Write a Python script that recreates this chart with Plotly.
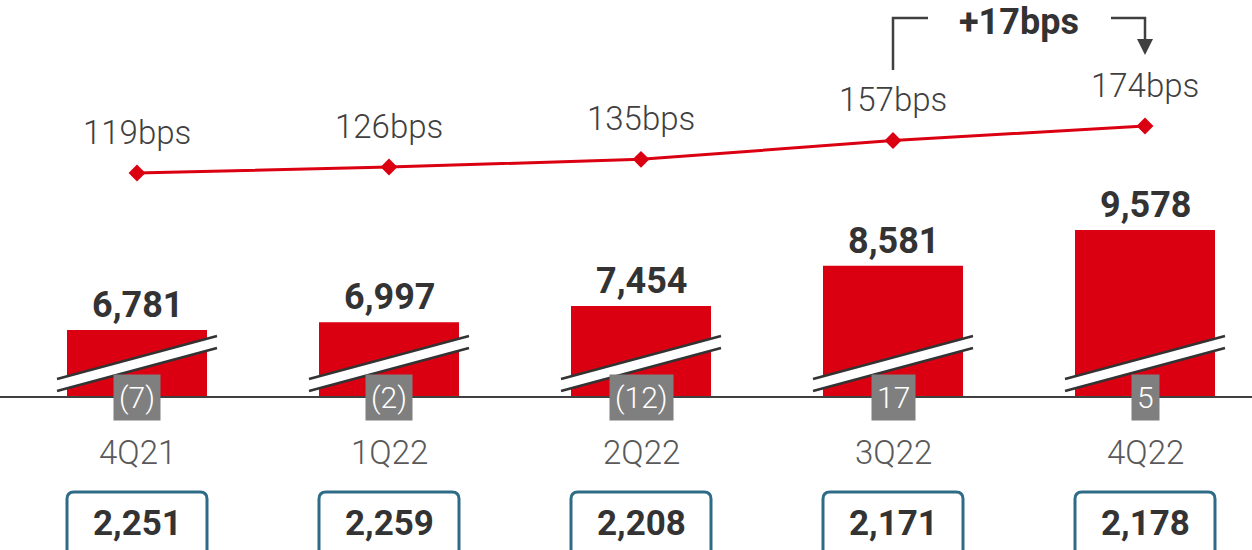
import plotly.graph_objects as go

# ---------------- data ----------------
quarters = ["4Q21", "1Q22", "2Q22", "3Q22", "4Q22"]
bar_values = [6781, 6997, 7454, 8581, 9578]
bps_values = [119, 126, 135, 157, 174]
change_labels = ["(7)", "(2)", "(12)", "17", "5"]
box_values = [2251, 2259, 2208, 2171, 2178]
delta_label = "+17bps"

# ---------------- layout constants ----------------
W, H = 1252, 550
X0_PX, STEP_PX = 137, 252          # first category centre & spacing (px)
BASE_PX = 397                      # baseline pixel row
BAR_RANGE = [4907, 16012]
LINE_RANGE = [-143.1, 321.5]

RED = "#DB0011"
DARK = "#333333"
TXT = "#404040"
GREY_BOX = "#7F7F7F"
BLUE = "#2E6B86"
FONT = "Roboto"


def py(p):
    """pixel row -> paper y"""
    return (H - p) / H


def dx(p):
    """pixel offset -> x data units"""
    return p / STEP_PX


x_idx = list(range(len(quarters)))
dom_bottom = py(BASE_PX)

fig = go.Figure()

fig.add_trace(go.Bar(
    x=x_idx, y=bar_values, width=dx(140), marker=dict(color=RED, line=dict(width=0)),
    yaxis="y", hoverinfo="skip", showlegend=False,
))
fig.add_trace(go.Scatter(
    x=x_idx, y=bps_values, mode="lines+markers", yaxis="y2",
    line=dict(color=RED, width=3),
    marker=dict(symbol="diamond", size=13, color=RED),
    hoverinfo="skip", showlegend=False,
))

shapes = []
annotations = []

# baseline
shapes.append(dict(type="line", xref="paper", yref="paper", x0=0, x1=1,
                   y0=dom_bottom, y1=dom_bottom, line=dict(color=TXT, width=2), layer="above"))

for i, q in enumerate(quarters):
    # axis break marks
    xl, xr = i - dx(80), i + dx(80)
    lo_l, lo_r = py(391), py(348)
    up_l, up_r = py(379), py(336)
    shapes.append(dict(type="path", xref="x", yref="paper",
                       path=f"M {xl} {lo_l} L {xr} {lo_r} L {xr} {up_r} L {xl} {up_l} Z",
                       fillcolor="white", line=dict(width=0), layer="above"))
    for a, b in ((lo_l, lo_r), (up_l, up_r)):
        shapes.append(dict(type="line", xref="x", yref="paper", x0=xl, x1=xr, y0=a, y1=b,
                           line=dict(color=DARK, width=2.5), layer="above"))

    # bar value label
    annotations.append(dict(x=i, y=bar_values[i], xref="x", yref="y", yshift=25,
                            text=f"<b>{bar_values[i]:,}</b>", showarrow=False,
                            font=dict(family=FONT, size=36, color=DARK), yanchor="middle"))
    # bps label
    annotations.append(dict(x=i, y=bps_values[i], xref="x", yref="y2", yshift=41,
                            text=f"{bps_values[i]}bps", showarrow=False,
                            font=dict(family=FONT, size=33, color=TXT, weight=300),
                            yanchor="middle"))
    # grey change box on baseline
    annotations.append(dict(x=i, y=dom_bottom, xref="x", yref="paper",
                            text=change_labels[i], showarrow=False, bgcolor=GREY_BOX,
                            borderpad=5, yanchor="middle",
                            font=dict(family=FONT, size=30, color="white", weight=300)))
    # category label
    annotations.append(dict(x=i, y=py(452), xref="x", yref="paper", text=q, showarrow=False,
                            yanchor="middle",
                            font=dict(family=FONT, size=33, color="#595959", weight=300)))
    # bottom rounded box
    bl, br = i - dx(70), i + dx(70)
    top, bot, r = py(492), py(560), 7
    rx, ry = dx(r), r / H
    shapes.append(dict(type="path", xref="x", yref="paper",
                       path=(f"M {bl} {bot} L {bl} {top - ry} Q {bl} {top} {bl + rx} {top} "
                             f"L {br - rx} {top} Q {br} {top} {br} {top - ry} L {br} {bot}"),
                       line=dict(color=BLUE, width=3), layer="above"))
    annotations.append(dict(x=i, y=py(523), xref="x", yref="paper",
                            text=f"<b>{box_values[i]:,}</b>", showarrow=False, yanchor="middle",
                            font=dict(family=FONT, size=35, color=DARK)))

# +17bps bracket between the last two quarters
a, b = len(quarters) - 2, len(quarters) - 1
shapes.append(dict(type="path", xref="x", yref="paper",
                   path=f"M {a} {py(70)} L {a} {py(18)} L {a + dx(35)} {py(18)}",
                   line=dict(color=TXT, width=2.5), layer="above"))
shapes.append(dict(type="path", xref="x", yref="paper",
                   path=f"M {b - dx(34)} {py(18)} L {b} {py(18)} L {b} {py(42)}",
                   line=dict(color=TXT, width=2.5), layer="above"))
shapes.append(dict(type="path", xref="x", yref="paper",
                   path=f"M {b - dx(8)} {py(39)} L {b + dx(8)} {py(39)} L {b} {py(55)} Z",
                   fillcolor=TXT, line=dict(width=0), layer="above"))
annotations.append(dict(x=(a + b) / 2, y=py(22), xref="x", yref="paper",
                        text=f"<b>{delta_label}</b>", showarrow=False, yanchor="middle",
                        font=dict(family=FONT, size=36, color=DARK)))

fig.update_layout(
    width=W, height=H, margin=dict(l=0, r=0, t=0, b=0),
    paper_bgcolor="white", plot_bgcolor="white",
    xaxis=dict(range=[-X0_PX / STEP_PX, (W - X0_PX) / STEP_PX], visible=False, fixedrange=True),
    yaxis=dict(range=BAR_RANGE, domain=[dom_bottom, 1], visible=False, fixedrange=True),
    yaxis2=dict(range=LINE_RANGE, domain=[dom_bottom, 1], overlaying="y", visible=False,
                fixedrange=True),
    shapes=shapes, annotations=annotations, showlegend=False,
)

fig.write_html("out.html", config={"displayModeBar": False, "staticPlot": True},
               post_script="document.body.style.margin='0';")
